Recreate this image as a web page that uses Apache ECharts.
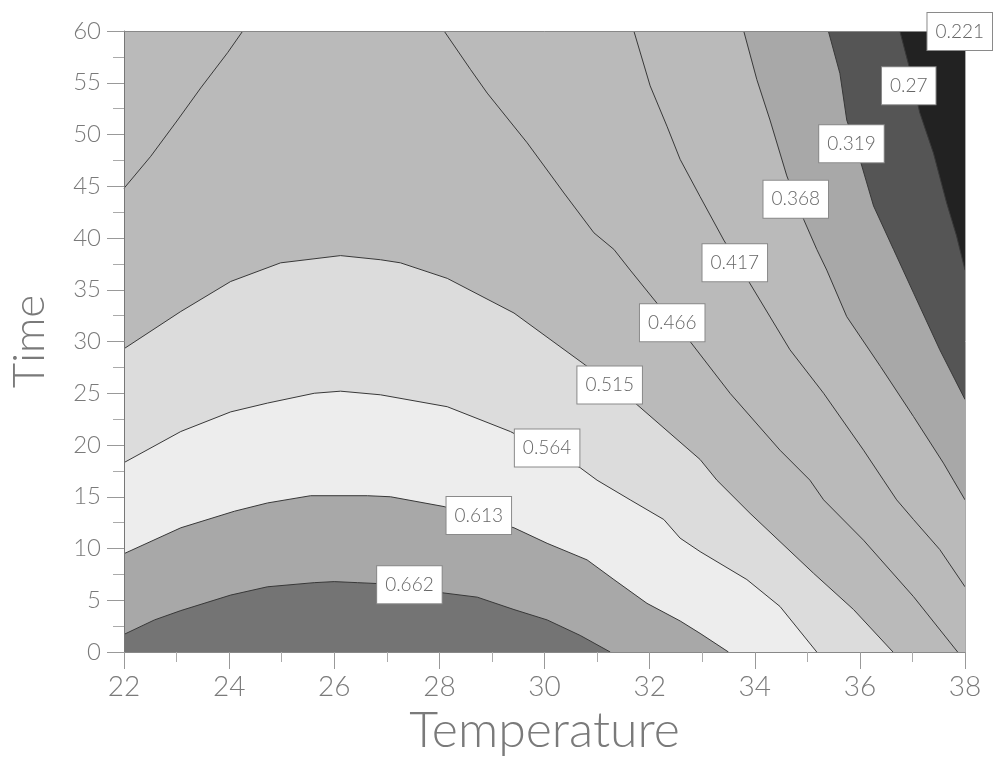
<!DOCTYPE html>
<html>
<head>
<meta charset="utf-8">
<script src="https://cdn.jsdelivr.net/npm/echarts@6/dist/echarts.min.js"></script>
<style>
  html, body { margin: 0; padding: 0; background: #fff; }
  #chart { width: 998px; height: 764px; }
</style>
</head>
<body>
<div id="chart"></div>
<script>
// Contour lines, as [temperature, time] points
const c662 = [[22.0, 1.7], [22.58, 3.1], [23.08, 4.0], [24.03, 5.5], [24.73, 6.3], [25.62, 6.7], [26.0, 6.8], [26.44, 6.7], [26.88, 6.6], [28.09, 5.7], [28.72, 5.3], [29.42, 4.1], [30.05, 3.1], [30.68, 1.6], [31.25, 0]];
const c613 = [[22.0, 9.5], [23.08, 12.0], [24.1, 13.6], [24.73, 14.4], [25.55, 15.1], [26.63, 15.1], [27.07, 15.0], [28.09, 14.05], [29.42, 12.0], [30.05, 10.5], [30.81, 8.9], [31.32, 7.0], [31.95, 4.7], [32.58, 3.0], [32.96, 1.8], [33.5, 0]];
const c564 = [[22.0, 18.3], [23.08, 21.3], [24.03, 23.2], [24.73, 24.05], [25.62, 25.0], [26.12, 25.2], [26.88, 24.85], [28.15, 23.7], [29.35, 21.3], [30.68, 17.8], [31.0, 16.6], [31.63, 14.7], [32.27, 12.8], [32.58, 11.0], [32.96, 9.7], [33.85, 7.0], [34.48, 4.4], [35.18, 0]];
const c515 = [[22.0, 29.3], [23.08, 32.9], [24.03, 35.8], [24.98, 37.6], [26.12, 38.3], [26.88, 37.9], [27.26, 37.6], [28.15, 36.1], [29.42, 32.75], [30.81, 27.6], [31.76, 23.9], [32.96, 18.6], [33.28, 16.6], [33.91, 13.4], [35.12, 7.6], [35.88, 4.1], [36.63, 0]];
const c466a = [[22.0, 44.8], [22.51, 47.9], [23.02, 51.4], [23.46, 54.5], [23.97, 57.9], [24.26, 60]];
const c466b = [[28.09, 60], [28.59, 56.3], [28.91, 54.0], [29.67, 49.2], [30.37, 44.35], [30.94, 40.5], [31.32, 38.9], [31.63, 36.9], [32.14, 33.7], [32.77, 30.0], [33.53, 25.0], [34.48, 19.5], [35.05, 16.6], [35.31, 14.7], [36.07, 10.8], [37.02, 5.35], [37.86, 0]];
const c417 = [[31.70, 60], [32.01, 54.7], [32.33, 50.8], [32.58, 47.6], [32.96, 44.0], [33.41, 39.8], [33.85, 36.1], [34.67, 29.2], [35.31, 25.0], [36.07, 19.5], [36.45, 16.6], [36.70, 14.7], [37.02, 12.8], [37.52, 9.9], [38, 6.3]];
const c368 = [[33.79, 60], [34.04, 55.3], [34.29, 51.4], [34.61, 46.0], [34.93, 41.8], [35.18, 38.9], [35.37, 36.9], [35.75, 32.4], [36.39, 27.6], [37.02, 22.75], [37.59, 18.25], [37.78, 16.6], [38, 14.7]];
const c319 = [[35.40, 60], [35.62, 55.9], [35.75, 51.4], [36.0, 47.6], [36.26, 43.1], [36.64, 38.9], [37.02, 34.7], [37.52, 29.2], [38, 24.4]];
const c270 = [[36.76, 60], [36.95, 56.3], [37.14, 52.1], [37.40, 48.2], [37.65, 43.4], [37.84, 40.2], [38, 36.9]];

// Contour level labels and where they sit
const levelNames = ['0.662', '0.613', '0.564', '0.515', '0.466', '0.417', '0.368', '0.319', '0.27', '0.221'];
const levelSpots = [[27.43, 6.5], [28.75, 13.2], [30.05, 19.7], [31.24, 25.8], [32.43, 31.8], [33.62, 37.6], [34.78, 43.75], [35.84, 49.1], [36.93, 54.7], [37.9, 59.95]];

const xMin = 22, xMax = 38, yMin = 0, yMax = 60;

// Filled bands: a contour closed off through one plot corner, painted in order
const bands = [
    { line: c515, corner: [xMin, yMin], color: '#dcdcdc' },
    { line: c564, corner: [xMin, yMin], color: '#ededed' },
    { line: c613, corner: [xMin, yMin], color: '#a8a8a8' },
    { line: c662, corner: [xMin, yMin], color: '#747474' },
    { line: c368, corner: [xMax, yMax], color: '#a8a8a8' },
    { line: c319, corner: [xMax, yMax], color: '#555555' },
    { line: c270, corner: [xMax, yMax], color: '#222222' }
];

const contours = [c662, c613, c564, c515, c466a, c466b, c417, c368, c319, c270];

const chart = echarts.init(document.getElementById('chart'));

const textFont = 'Lato, "DejaVu Sans", sans-serif';
const textColor = '#7a7a7a';

const lineSeries = contours.map(pts => ({
    type: 'line',
    data: pts,
    symbol: 'none',
    silent: true,
    z: 5,
    lineStyle: { color: '#383838', width: 1 }
}));

chart.setOption({
    animation: false,
    grid: {
        left: 123, top: 31, width: 842, height: 621,
        show: true, backgroundColor: '#bababa', borderWidth: 0
    },
    xAxis: [{
        type: 'value', min: xMin, max: xMax, interval: 2, z: 10,
        name: 'Temperature', nameLocation: 'middle', nameGap: 17,
        nameTextStyle: { fontFamily: textFont, fontWeight: 300, fontSize: 50, color: textColor },
        axisLine: { show: true, lineStyle: { color: '#888', width: 1 } },
        axisTick: { show: true, length: 17, lineStyle: { color: '#999' } },
        minorTick: { show: true, splitNumber: 2, length: 10, lineStyle: { color: '#aaa' } },
        axisLabel: { margin: 21, fontFamily: textFont, fontWeight: 300, fontSize: 28, color: textColor },
        splitLine: { show: false }
    }, {
        type: 'value', min: xMin, max: xMax, position: 'top', z: 10,
        axisLine: { show: true, onZero: false, lineStyle: { color: '#888', width: 1 } },
        axisTick: { show: false }, axisLabel: { show: false }, splitLine: { show: false }
    }],
    yAxis: [{
        type: 'value', min: yMin, max: yMax, interval: 5, z: 10,
        name: 'Time', nameLocation: 'middle', nameGap: 72,
        nameTextStyle: { fontFamily: textFont, fontWeight: 300, fontSize: 44, color: textColor },
        axisLine: { show: true, lineStyle: { color: '#777', width: 1 } },
        axisTick: { show: true, length: 17, lineStyle: { color: '#999' } },
        minorTick: { show: true, splitNumber: 2, length: 11, lineStyle: { color: '#aaa' } },
        axisLabel: { margin: 23, fontFamily: textFont, fontWeight: 300, fontSize: 24, color: textColor },
        splitLine: { show: false }
    }, {
        type: 'value', min: yMin, max: yMax, position: 'right', z: 10,
        axisLine: { show: true, onZero: false, lineStyle: { color: '#aaa', width: 1 } },
        axisTick: { show: false }, axisLabel: { show: false }, splitLine: { show: false }
    }],
    series: [{
        type: 'custom',
        silent: true,
        z: 2,
        data: bands.map((b, i) => [i]),
        renderItem: (params, api) => {
            const b = bands[api.value(0)];
            const pts = b.line.concat([b.corner]).map(p => api.coord(p));
            return { type: 'polygon', shape: { points: pts }, style: { fill: b.color } };
        }
    }].concat(lineSeries).concat([{
        type: 'scatter',
        z: 20,
        clip: false,
        silent: true,
        symbolSize: 0,
        itemStyle: { color: '#fff', opacity: 1 },
        data: levelSpots.map((p, i) => ({ value: p, name: levelNames[i] })),
        label: {
            show: true,
            position: 'inside',
            formatter: p => p.name,
            fontFamily: textFont,
            fontWeight: 300,
            fontSize: 19,
            color: '#666',
            backgroundColor: '#fff',
            borderColor: '#8a8a8a',
            borderWidth: 1,
            padding: [9, 8]
        }
    }])
});
</script>
</body>
</html>
